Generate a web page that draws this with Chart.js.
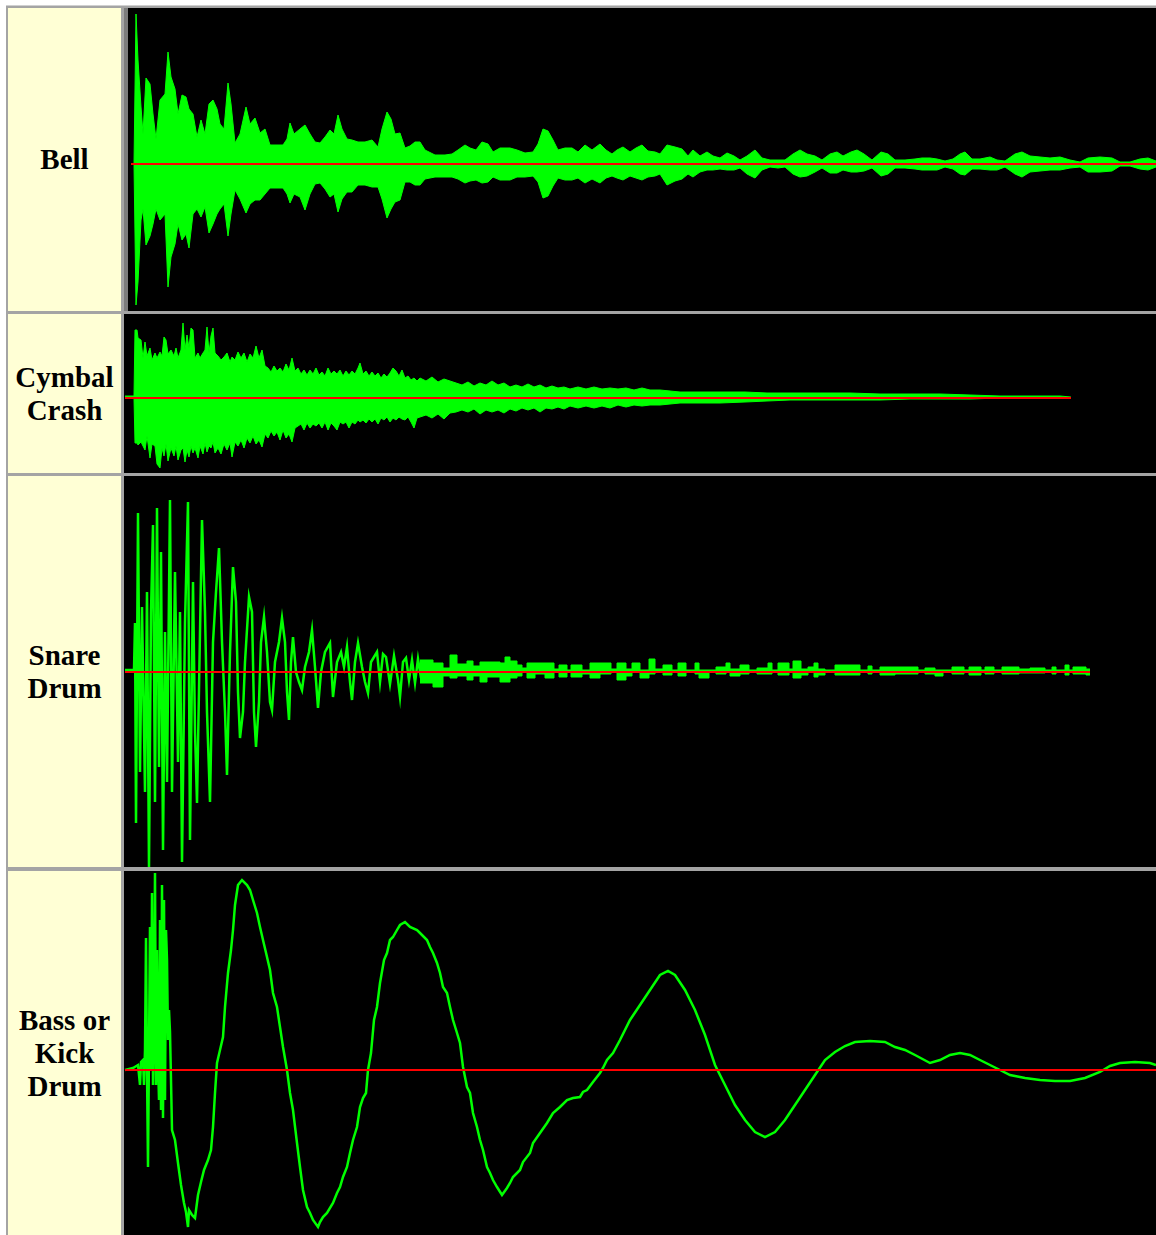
<!DOCTYPE html>
<html>
<head>
<meta charset="utf-8">
<title>Drum waveforms</title>
<script src="https://cdn.jsdelivr.net/npm/chart.js@4.4.0/dist/chart.umd.min.js"></script>
<style>
    html, body { margin: 0; padding: 0; background: #fff; }
    body { width: 1156px; height: 1235px; overflow: hidden; position: relative; }
    #frame { position: absolute; left: 6px; top: 5px; width: 1170px; height: 1250px;
             background: #a4a4a4; border-top: 1px solid #d0d0d0; box-sizing: border-box; }
    .label { position: absolute; left: 8px; width: 113px; background: #ffffd5;
             display: flex; align-items: center; justify-content: center; text-align: center;
             font: bold 29px/33px "Liberation Serif", "Times New Roman", serif; color: #000; }
    .wave { position: absolute; left: 124px; width: 1032px; background: #000; }
    .wave canvas { display: block; }
    #strip { position: absolute; left: 124px; top: 8px; width: 4px; height: 303px; background: #7c7c7c; }
</style>
</head>
<body>
<div id="frame"></div>

<div class="label" style="top:8px;height:303px;">Bell</div>
<div class="label" style="top:314px;height:159px;">Cymbal<br>Crash</div>
<div class="label" style="top:476px;height:391px;">Snare<br>Drum</div>
<div class="label" style="top:871px;height:364px;">Bass or<br>Kick<br>Drum</div>

<div class="wave" style="top:8px;height:303px;"><canvas id="bell" width="1032" height="303"></canvas></div>
<div id="strip"></div>
<div class="wave" style="top:314px;height:159px;"><canvas id="cymbal" width="1032" height="159"></canvas></div>
<div class="wave" style="top:476px;height:391px;"><canvas id="snare" width="1032" height="391"></canvas></div>
<div class="wave" style="top:871px;height:364px;"><canvas id="kick" width="1032" height="364"></canvas></div>

<script>
    "use strict";

    // Bell - envelope (time ticks, upper and lower amplitude)
    var bellTime = [
        131, 134, 136, 138, 141, 143, 146, 150, 153, 156,
        160, 165, 168, 171, 175, 178, 182, 186, 189, 193,
        197, 201, 205, 209, 213, 217, 220, 224, 228, 231,
        235, 240, 246, 250, 255, 260, 265, 270, 276, 283,
        287, 290, 294, 300, 305, 310, 315, 320, 325, 330,
        334, 338, 342, 347, 352, 358, 365, 372, 378, 382,
        387, 391, 395, 400, 405, 410, 415, 420, 425, 435,
        445, 452, 458, 465, 470, 476, 482, 488, 493, 500,
        510, 517, 525, 533, 538, 543, 548, 553, 558, 565,
        572, 578, 585, 592, 600, 606, 612, 617, 623, 630,
        636, 642, 648, 655, 660, 667, 675, 682, 688, 693,
        700, 707, 713, 720, 727, 734, 740, 747, 755, 762,
        770, 778, 785, 793, 800, 807, 815, 822, 830, 837,
        843, 851, 857, 864, 872, 881, 888, 895, 905, 915,
        922, 930, 937, 945, 953, 960, 965, 972, 980, 990,
        997, 1005, 1015, 1022, 1030, 1040, 1050, 1060, 1070, 1080,
        1088, 1100, 1112, 1120, 1130, 1140, 1148, 1156
    ];
    var bellUpper = [
        0, 0, 150, 104, 57, 30, 86, 80, 50, 25,
        64, 70, 112, 87, 75, 50, 69, 67, 55, 50,
        27, 44, 30, 60, 64, 55, 40, 35, 81, 60,
        21, 30, 57, 40, 46, 31, 35, 19, 19, 19,
        25, 41, 30, 35, 39, 30, 22, 21, 27, 34,
        30, 49, 35, 25, 24, 22, 22, 24, 17, 35,
        52, 45, 30, 31, 16, 18, 22, 22, 14, 9,
        9, 10, 14, 19, 16, 14, 22, 20, 12, 16,
        16, 14, 11, 12, 20, 35, 33, 24, 14, 16,
        16, 12, 19, 14, 20, 14, 10, 14, 17, 12,
        16, 19, 13, 12, 10, 19, 17, 15, 8, 14,
        8, 12, 8, 6, 11, 8, 4, 8, 14, 6,
        4, 4, 4, 10, 14, 10, 8, 4, 10, 12,
        8, 12, 14, 10, 4, 12, 10, 4, 4, 5,
        6, 6, 5, 3, 5, 10, 12, 5, 5, 7,
        4, 3, 10, 12, 8, 7, 6, 7, 4, 2,
        6, 7, 6, 2, 2, 5, 6, 3
    ];
    var bellLower = [
        0, 0, -141, -118, -56, -45, -81, -72, -60, -45,
        -56, -50, -123, -93, -80, -60, -76, -70, -84, -50,
        -45, -53, -43, -69, -60, -50, -45, -40, -72, -50,
        -26, -35, -49, -40, -36, -36, -30, -24, -24, -24,
        -30, -39, -30, -33, -46, -30, -20, -19, -25, -33,
        -30, -48, -35, -28, -28, -21, -21, -23, -23, -35,
        -54, -45, -38, -36, -18, -18, -21, -21, -15, -13,
        -13, -13, -15, -19, -17, -16, -19, -18, -13, -16,
        -16, -13, -13, -12, -18, -34, -32, -22, -14, -16,
        -16, -14, -19, -15, -19, -14, -12, -14, -16, -12,
        -14, -16, -13, -12, -10, -21, -17, -15, -10, -13,
        -8, -6, -6, -5, -6, -6, -4, -10, -14, -6,
        -3, -4, -3, -10, -13, -12, -8, -4, -9, -9,
        -6, -8, -8, -7, -4, -12, -10, -4, -4, -5,
        -6, -6, -6, -3, -5, -10, -11, -5, -5, -6,
        -6, -3, -10, -13, -8, -7, -6, -6, -4, -3,
        -8, -8, -7, -2, -2, -5, -6, -3
    ];

    // Cymbal crash - envelope
    var cymbalTime = [
        125, 134, 135, 137, 138, 141, 143, 145, 147, 150,
        152, 155, 157, 160, 162, 164, 166, 168, 171, 174,
        176, 178, 181, 183, 185, 187, 189, 191, 193, 195,
        198, 200, 203, 205, 207, 209, 211, 213, 215, 218,
        221, 224, 227, 230, 232, 235, 238, 241, 244, 247,
        250, 253, 256, 259, 262, 265, 268, 271, 274, 277,
        280, 283, 286, 289, 292, 295, 298, 301, 304, 307,
        310, 313, 316, 319, 322, 325, 328, 331, 334, 337,
        340, 343, 346, 349, 352, 355, 358, 360, 363, 366,
        369, 372, 375, 378, 381, 384, 387, 390, 393, 396,
        399, 402, 405, 408, 411, 414, 417, 420, 426, 432,
        438, 444, 450, 456, 462, 468, 474, 480, 486, 492,
        498, 504, 510, 516, 522, 528, 534, 540, 546, 552,
        558, 564, 570, 578, 586, 594, 602, 610, 618, 626,
        634, 642, 650, 660, 670, 680, 700, 720, 745, 767,
        790, 820, 850, 880, 910, 940, 970, 1000, 1030, 1060,
        1071
    ];
    var cymbalUpper = [
        2, 2, 68, 68, 60, 58, 40, 56, 42, 50,
        38, 45, 40, 46, 42, 61, 58, 44, 48, 42,
        50, 40, 48, 75, 48, 63, 50, 70, 68, 40,
        45, 40, 45, 48, 71, 45, 62, 70, 45, 42,
        38, 41, 45, 36, 41, 38, 46, 40, 45, 36,
        44, 40, 52, 40, 48, 32, 30, 26, 32, 27,
        30, 26, 34, 28, 40, 27, 30, 24, 28, 23,
        28, 24, 30, 23, 26, 22, 30, 24, 27, 24,
        28, 22, 27, 23, 27, 24, 30, 35, 24, 27,
        22, 26, 22, 25, 20, 24, 21, 25, 30, 27,
        22, 28, 20, 22, 18, 20, 17, 20, 17, 21,
        16, 19, 17, 15, 13, 16, 12, 15, 13, 17,
        13, 15, 11, 13, 11, 14, 11, 13, 10, 12,
        10, 11, 9, 11, 9, 11, 9, 10, 9, 10,
        8, 10, 8, 8, 7, 6, 6, 6, 6, 5,
        5, 5, 5, 4, 4, 4, 3, 2, 2, 2,
        1
    ];
    var cymbalLower = [
        0, 0, -45, -45, -47, -44, -48, -52, -38, -60,
        -46, -48, -66, -70, -50, -58, -46, -63, -50, -58,
        -48, -62, -52, -50, -64, -52, -59, -48, -55, -50,
        -60, -48, -56, -45, -54, -48, -50, -44, -55, -50,
        -56, -46, -52, -45, -59, -44, -48, -42, -50, -40,
        -45, -38, -46, -42, -49, -36, -40, -33, -38, -34,
        -42, -32, -40, -36, -44, -30, -28, -26, -32, -25,
        -30, -26, -28, -25, -30, -24, -32, -25, -28, -32,
        -24, -26, -24, -30, -24, -26, -22, -24, -22, -25,
        -21, -24, -21, -26, -20, -22, -19, -24, -20, -22,
        -19, -21, -22, -19, -24, -30, -20, -19, -17, -20,
        -16, -21, -15, -14, -12, -14, -11, -16, -12, -14,
        -12, -15, -11, -13, -10, -12, -10, -14, -10, -11,
        -9, -11, -8, -10, -8, -10, -8, -10, -7, -9,
        -7, -8, -7, -7, -6, -5, -5, -5, -4, -3,
        -2, -2, -2, -2, -1, -1, -1, 0, 0, 0,
        0
    ];

    // Snare drum - attack as a sample trace, tail as an envelope
    var snareTime = [
        125, 134, 135, 136, 138, 140, 142, 145, 147, 149,
        151, 153, 155, 157, 159, 161, 163, 165, 167, 170,
        172, 175, 178, 180, 182, 185, 188, 190, 193, 195,
        197, 200, 202, 205, 207, 210, 213, 216, 219, 222,
        225, 227, 230, 233, 236, 238, 240, 243, 245, 249,
        252, 254, 256, 259, 261, 264, 267, 270, 272, 275,
        279, 282, 285, 287, 289, 291, 293, 296, 299, 302,
        305, 309, 312, 315, 318, 321, 325, 330, 333, 337,
        341, 344, 347, 350, 352, 355, 358, 362, 365, 368,
        371, 374, 377, 380, 383, 386, 390, 394, 398, 400,
        403, 406, 409, 412, 415, 418, 421
    ];
    var snareAttack = [
        2, 2, 49, -151, 159, -100, 65, -120, 80, -195,
        60, 147, -130, 164, -95, 120, -178, 40, -110, 172,
        -120, 100, -90, 60, -190, 50, 170, -168, 90, -60,
        -131, 40, 152, 60, -40, -130, 30, 80, 124, 30,
        -40, -103, 20, 105, 70, -20, -66, -40, 10, 75,
        60, -40, -75, -30, 30, 55, 20, -30, -38, 10,
        30, 54, 30, -20, -48, 10, 35, 0, -10, -18,
        5, 20, 42, 5, -36, 0, 20, 29, -25, 10,
        20, 5, 25, -10, -28, 10, 29, 5, -10, -21,
        10, 15, 20, -10, 18, 15, -12, 16, -8, -25,
        10, 14, -8, 12, -11, 13, -6
    ];
    var snareTailTime = [
        420, 433, 443, 450, 457, 467, 473, 480, 487, 500,
        505, 510, 517, 522, 527, 535, 545, 554, 559, 567,
        571, 582, 590, 600, 611, 617, 626, 632, 640, 649,
        655, 663, 672, 678, 686, 695, 699, 709, 716, 726,
        730, 740, 749, 757, 768, 772, 778, 789, 793, 801,
        808, 814, 818, 825, 835, 848, 860, 868, 872, 880,
        895, 908, 918, 925, 935, 943, 952, 964, 969, 981,
        985, 994, 1002, 1019, 1030, 1045, 1052, 1056, 1065, 1069,
        1073, 1086, 1090
    ];
    var snareTailUpper = [
        12, 9, 4, 17, 8, 11, 6, 10, 10, 9,
        15, 11, 7, 4, 9, 9, 9, 3, 7, 2,
        7, 2, 9, 9, 3, 9, 3, 9, 2, 13,
        3, 7, 2, 9, 2, 9, 2, 2, 5, 9,
        3, 7, 2, 4, 9, 2, 9, 3, 11, 3,
        5, 9, 3, 2, 7, 7, 2, 6, 2, 5,
        5, 5, 2, 4, 2, 2, 5, 2, 5, 2,
        5, 2, 5, 3, 4, 2, 5, 2, 7, 2,
        5, 3, 3
    ];
    var snareTailLower = [
        -11, -15, -4, -6, -4, -8, -4, -10, -5, -10,
        -10, -6, -4, 0, -6, -2, -6, 0, -5, 0,
        -5, -2, -6, -2, 0, -8, -4, 0, -6, -2,
        0, -3, 0, -4, 0, -2, -6, 0, -2, 0,
        -4, -2, 0, -2, -2, 0, -3, 0, -6, -3,
        0, -5, -3, 0, -3, -3, 0, -2, 0, -3,
        -2, -2, 0, -2, -4, 0, -2, 0, -3, 0,
        -2, 0, -2, -1, -1, 0, -2, 0, -3, 0,
        -2, -3, -3
    ];

    // Bass / kick drum - sample trace
    var kickTime = [
        125, 133, 138, 140, 141, 143, 144, 145, 146, 147, 148,
        149, 150, 151, 152, 153, 154, 155, 156, 157, 158,
        159, 160, 161, 162, 163, 164, 165, 166, 167, 168,
        169, 170, 171, 172, 175, 178, 181, 184, 186, 188,
        189, 192, 195, 198, 201, 204, 208, 211, 213, 215,
        217, 220, 223, 225, 228, 231, 233, 235, 238, 242,
        247, 250, 253, 257, 260, 263, 267, 270, 273, 277,
        280, 283, 287, 290, 293, 297, 300, 303, 307, 310,
        313, 318, 320, 323, 327, 333, 337, 340, 343, 347,
        350, 353, 357, 360, 363, 366, 368, 371, 374, 377,
        380, 384, 387, 390, 393, 397, 400, 405, 410, 417,
        420, 427, 430, 433, 437, 440, 443, 447, 450, 453,
        457, 460, 463, 467, 470, 473, 477, 480, 483, 487,
        490, 493, 497, 502, 507, 510, 513, 520, 523, 530,
        533, 540, 547, 553, 560, 567, 573, 580, 583, 587,
        593, 600, 603, 607, 613, 620, 630, 640, 650, 660,
        668, 675, 685, 695, 705, 715, 725, 735, 745, 755,
        765, 775, 785, 795, 805, 815, 825, 835, 845, 855,
        870, 885, 895, 905, 915, 930, 940, 950, 960, 970,
        980, 990, 1000, 1010, 1025, 1040, 1055, 1070, 1085, 1100,
        1110, 1120, 1135, 1150, 1156
    ];
    var kickLevel = [
        0, 2, 5, -15, 8, 10, -15, 20, 132, 0, -97,
        20, 143, 0, 177, -15, 40, 197, -15, 120, 10,
        -30, 150, -40, 185, -48, 170, -30, 140, 110, 30,
        60, 38, -10, -60, -70, -93, -115, -133, -142, -157,
        -140, -145, -148, -125, -112, -100, -90, -80, -57, -23,
        7, 20, 33, 63, 97, 120, 140, 165, 185, 190,
        185, 180, 170, 157, 143, 130, 113, 100, 77, 63,
        43, 23, 0, -23, -40, -73, -97, -120, -137, -143,
        -150, -157, -152, -147, -143, -133, -123, -117, -107, -97,
        -83, -70, -57, -37, -28, -23, 0, 17, 50, 63,
        87, 110, 117, 130, 133, 140, 145, 148, 143, 140,
        137, 130, 123, 117, 107, 97, 83, 77, 63, 50,
        37, 27, 3, -17, -23, -43, -57, -70, -80, -97,
        -103, -110, -117, -125, -118, -113, -107, -100, -92, -83,
        -73, -63, -53, -43, -37, -30, -28, -27, -22, -20,
        -12, -3, 2, 10, 17, 30, 50, 65, 80, 95,
        99, 95, 80, 60, 35, 5, -15, -35, -50, -62,
        -67, -62, -50, -35, -20, -5, 10, 18, 24, 28,
        29, 28, 23, 20, 15, 7, 10, 15, 17, 15,
        10, 5, 0, -5, -8, -10, -11, -11, -8, -2,
        4, 7, 8, 7, 5
    ];

    var GREEN = "#00ff00";
    var RED = "#ff0000";

    function points(xs, ys) {
        return xs.map(function (x, i) { return { x: x, y: ys[i] }; });
    }

    function zeroLine(from, to) {
        return { data: [{ x: from, y: 0 }, { x: to, y: 0 }], borderColor: RED, borderWidth: 2, fill: false };
    }

    function envelope(xs, upper, lower, stepped) {
        return [
            { data: points(xs, upper), borderColor: GREEN, backgroundColor: GREEN, borderWidth: 1, fill: "+1", stepped: stepped },
            { data: points(xs, lower), borderColor: GREEN, borderWidth: 1, fill: false, stepped: stepped }
        ];
    }

    function trace(xs, ys, width) {
        return { data: points(xs, ys), borderColor: GREEN, borderWidth: width, fill: false };
    }

    function waveChart(id, yMin, yMax, datasets) {
        return new Chart(document.getElementById(id), {
            type: "line",
            data: { datasets: datasets },
            options: {
                responsive: false,
                animation: false,
                events: [],
                layout: { padding: 0 },
                plugins: { legend: { display: false }, tooltip: { enabled: false } },
                elements: { point: { radius: 0 }, line: { tension: 0 } },
                scales: {
                    x: { type: "linear", display: false, min: 124, max: 1156 },
                    y: { type: "linear", display: false, min: yMin, max: yMax }
                }
            }
        });
    }

    // Bell
    waveChart("bell", -147, 156,
        [zeroLine(bellTime[0], 1156)].concat(envelope(bellTime, bellUpper, bellLower, false)));

    // Cymbal Crash
    waveChart("cymbal", -75, 84,
        [zeroLine(cymbalTime[0], cymbalTime[cymbalTime.length - 1])]
            .concat(envelope(cymbalTime, cymbalUpper, cymbalLower, false)));

    // Snare Drum
    waveChart("snare", -195, 196,
        [zeroLine(snareTime[0], snareTailTime[snareTailTime.length - 1]), trace(snareTime, snareAttack, 2.5)]
            .concat(envelope(snareTailTime, snareTailUpper, snareTailLower, true)));

    // Bass or Kick Drum
    waveChart("kick", -165, 199,
        [zeroLine(kickTime[0], 1156), trace(kickTime, kickLevel, 2.5)]);
</script>
</body>
</html>
